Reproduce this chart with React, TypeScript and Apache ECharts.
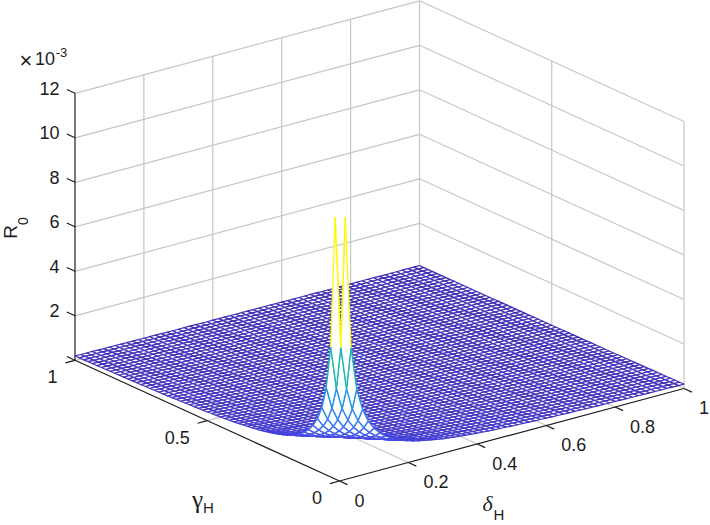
import React, { useEffect, useRef } from "react";
import * as echarts from "echarts";

const zTicks = [2, 4, 6, 8, 10, 12];
const gammaTicks = [0, 0.5, 1];
const gammaLabels = ["0", "0.5", "1"];
const deltaTicks = [0, 0.2, 0.4, 0.6, 0.8, 1];
const deltaLabels = ["0", "0.2", "0.4", "0.6", "0.8", "1"];
const meshSteps = 60;
// R0 (x 1e-3), indexed by grid index sum (row + column); first node is undefined.
const r0ByGridSum: (number | null)[] = [
  null, 11.77, 5.85, 3.92, 2.94, 2.35, 1.96, 1.68, 1.47, 1.31,
  1.18, 1.07, 0.98, 0.91, 0.84, 0.78, 0.74, 0.69, 0.65, 0.62,
  0.59, 0.56, 0.54, 0.51, 0.49, 0.47, 0.45, 0.44, 0.42, 0.41,
  0.39, 0.38, 0.37, 0.36, 0.35, 0.34, 0.33, 0.32, 0.31, 0.3,
  0.29, 0.29, 0.28, 0.27, 0.27, 0.26, 0.26, 0.25, 0.25, 0.24,
  0.24, 0.23, 0.23, 0.22, 0.22, 0.21, 0.21, 0.21, 0.2, 0.2,
  0.2, 0.19, 0.19, 0.19, 0.18, 0.18, 0.18, 0.18, 0.17, 0.17,
  0.17, 0.17, 0.16, 0.16, 0.16, 0.16, 0.15, 0.15, 0.15, 0.15,
  0.15, 0.15, 0.14, 0.14, 0.14, 0.14, 0.14, 0.14, 0.13, 0.13,
  0.13, 0.13, 0.13, 0.13, 0.13, 0.12, 0.12, 0.12, 0.12, 0.12,
  0.12, 0.12, 0.12, 0.11, 0.11, 0.11, 0.11, 0.11, 0.11, 0.11,
  0.11, 0.11, 0.11, 0.1, 0.1, 0.1, 0.1, 0.1, 0.1, 0.1, 0.1,
];
const colorStops: [number, number[]][] = [
  [0, [64, 46, 178]],
  [0.1, [71, 72, 232]],
  [0.2, [53, 120, 245]],
  [0.33, [31, 150, 230]],
  [0.5, [30, 184, 176]],
  [0.66, [110, 201, 108]],
  [0.8, [224, 185, 60]],
  [1, [252, 250, 20]],
];

const FRONT = [339.5, 481];
const DELTA_VEC = [344.5, -92.5];
const GAMMA_VEC = [-264.5, -120.7];
const Z_SCALE = 22.25;
const INK = "#1c1c1c";
const GRID_COLOR = "#c6c6c6";
const FONT = '"Liberation Sans", Arial, sans-serif';
const SERIF = '"Liberation Serif", "Times New Roman", serif';

const project = (d: number, g: number, z: number) => [
  FRONT[0] + d * DELTA_VEC[0] + g * GAMMA_VEC[0],
  FRONT[1] + d * DELTA_VEC[1] + g * GAMMA_VEC[1] - z * Z_SCALE,
];

const colorOf = (z: number) => {
  const t = Math.min(1, z / 11.77);
  for (let k = 1; k < colorStops.length; k++) {
    if (t <= colorStops[k][0]) {
      const [t0, c0] = colorStops[k - 1];
      const [t1, c1] = colorStops[k];
      const f = (t - t0) / (t1 - t0);
      return `rgb(${c0.map((c, n) => Math.round(c + (c1[n] - c) * f)).join(",")})`;
    }
  }
  return "rgb(252,250,20)";
};

type Seg = number[];
const segmentSeries = (segs: Seg[], color: string, width: number) => ({
  type: "custom",
  coordinateSystem: "cartesian2d",
  silent: true,
  clip: false,
  progressive: 0,
  data: segs,
  renderItem: (_p: any, api: any) => {
    const a = api.coord(project(api.value(0), api.value(1), api.value(2)));
    const b = api.coord(project(api.value(3), api.value(4), api.value(5)));
    return {
      type: "line",
      shape: { x1: a[0], y1: a[1], x2: b[0], y2: b[1] },
      style: { stroke: color, lineWidth: width, fill: "none" },
    };
  },
});

type Lab = { text: string; at: number[]; dx: number; dy: number; align: string };
const labelSeries = (labs: Lab[]) => ({
  type: "custom",
  coordinateSystem: "cartesian2d",
  silent: true,
  clip: false,
  progressive: 0,
  data: labs.map((l) => [l.at[0], l.at[1], l.at[2]]),
  renderItem: (p: any, api: any) => {
    const l = labs[p.dataIndex];
    const c = api.coord(project(l.at[0], l.at[1], l.at[2]));
    return {
      type: "text",
      x: c[0] + l.dx,
      y: c[1] + l.dy,
      style: {
        text: l.text,
        fill: INK,
        font: `18px ${FONT}`,
        textAlign: l.align,
        textVerticalAlign: "middle",
      },
    };
  },
});

const sumAt = (i: number, j: number) => r0ByGridSum[i + j];

const buildCells = () => {
  const cells: number[][] = [];
  for (let s = 2 * meshSteps - 2; s >= 0; s--) {
    for (let i = 0; i < meshSteps; i++) {
      const j = s - i;
      if (j >= 0 && j < meshSteps) cells.push([i, j]);
    }
  }
  return cells;
};

const meshSeries = {
  type: "custom",
  coordinateSystem: "cartesian2d",
  silent: true,
  clip: false,
  progressive: 0,
  data: buildCells(),
  renderItem: (_p: any, api: any) => {
    const i = api.value(0);
    const j = api.value(1);
    const pt = (a: number, b: number) =>
      api.coord(project(a / meshSteps, b / meshSteps, (sumAt(a, b) as number) ?? 0));
    const edge = (a1: number, b1: number, a2: number, b2: number) => ({
      type: "line",
      shape: {
        x1: pt(a1, b1)[0],
        y1: pt(a1, b1)[1],
        x2: pt(a2, b2)[0],
        y2: pt(a2, b2)[1],
      },
      style: { stroke: colorOf(sumAt(a1, b1) as number), lineWidth: 1.35, fill: "none" },
    });
    if (i === 0 && j === 0) {
      return { type: "group", children: [edge(0, 1, 1, 1), edge(1, 0, 1, 1)] };
    }
    const pts = [pt(i, j), pt(i + 1, j), pt(i + 1, j + 1), pt(i, j + 1)];
    if (i + j < 14) {
      return {
        type: "group",
        children: [
          { type: "polygon", shape: { points: pts }, style: { fill: "#fff", stroke: "none" } },
          edge(i, j, i + 1, j),
          edge(i, j, i, j + 1),
          edge(i + 1, j, i + 1, j + 1),
          edge(i, j + 1, i + 1, j + 1),
        ],
      };
    }
    return {
      type: "polygon",
      shape: { points: pts },
      style: {
        fill: "#fff",
        stroke: colorOf(sumAt(i, j) as number),
        lineWidth: 1.2,
        lineJoin: "round",
      },
    };
  },
};

const gridSegs: Seg[] = [
  ...zTicks.map((z) => [0, 1, z, 1, 1, z]),
  ...zTicks.map((z) => [1, 1, z, 1, 0, z]),
  ...deltaTicks.filter((d) => d > 0).map((d) => [d, 1, 0, d, 1, 12]),
  ...gammaTicks.filter((g) => g < 1).map((g) => [1, g, 0, 1, g, 12]),
  ...deltaTicks.filter((d) => d > 0).map((d) => [d, 0, 0, d, 1, 0]),
  ...gammaTicks.filter((g) => g > 0).map((g) => [0, g, 0, 1, g, 0]),
];

const axisSegs: Seg[] = [
  [0, 1, 0, 0, 1, 12],
  [0, 0, 0, 0, 1, 0],
  [0, 0, 0, 1, 0, 0],
  ...zTicks.map((z) => [0, 1, z, 0, 1.031, z]),
  [0, 1, 0, 0, 1.031, 0],
  ...gammaTicks.map((g) => [0, g, 0, -0.028, g, 0]),
  ...deltaTicks.map((d) => [d, 0, 0, d, -0.03, 0]),
];

const tickLabels: Lab[] = [
  ...zTicks.map((z) => ({ text: String(z), at: [0, 1, z], dx: -15.5, dy: -4.5, align: "right" })),
  ...gammaTicks.map((g, k) => ({ text: gammaLabels[k], at: [0, g, 0], dx: -17.5, dy: 17, align: "right" })),
  ...deltaTicks.map((d, k) => ({ text: deltaLabels[k], at: [d, 0, 0], dx: 15, dy: 19.5, align: "left" })),
];

const txt = (text: string, x: number, y: number, font: string, extra: any = {}) => ({
  type: "text",
  x,
  y,
  ...extra,
  style: { text, fill: INK, font, textAlign: "center", textVerticalAlign: "middle" },
});

export default function App() {
  const ref = useRef<HTMLDivElement>(null);
  useEffect(() => {
    const chart = echarts.init(ref.current!, undefined, { renderer: "svg" });
    chart.setOption({
      animation: false,
      backgroundColor: "#fff",
      grid: { left: 0, right: 0, top: 0, bottom: 0 },
      xAxis: { type: "value", min: 0, max: 710, show: false },
      yAxis: { type: "value", min: 0, max: 525, inverse: true, show: false },
      series: [
        segmentSeries(gridSegs, GRID_COLOR, 1.2),
        segmentSeries(axisSegs, INK, 1.2),
        meshSeries,
        labelSeries(tickLabels),
      ],
      graphic: [
        txt("×", 26, 60, `22px ${FONT}`),
        txt("10", 45, 59, `18px ${FONT}`),
        txt("-3", 61.5, 52, `13px ${FONT}`),
        txt("R", 10, 232, `19px ${FONT}`, { rotation: Math.PI / 2 }),
        txt("0", 23, 221, `14px ${FONT}`, { rotation: Math.PI / 2 }),
        txt("γ", 197.5, 499, `25px ${SERIF}`),
        txt("H", 208.5, 507.5, `15px ${FONT}`),
        txt("δ", 487.5, 503, `italic 22px ${SERIF}`),
        txt("H", 499, 514.5, `15px ${FONT}`),
      ],
    });
    return () => chart.dispose();
  }, []);
  return (
    <div
      ref={ref}
      style={{ position: "absolute", left: 0, top: 0, width: 710, height: 525 }}
    />
  );
}
